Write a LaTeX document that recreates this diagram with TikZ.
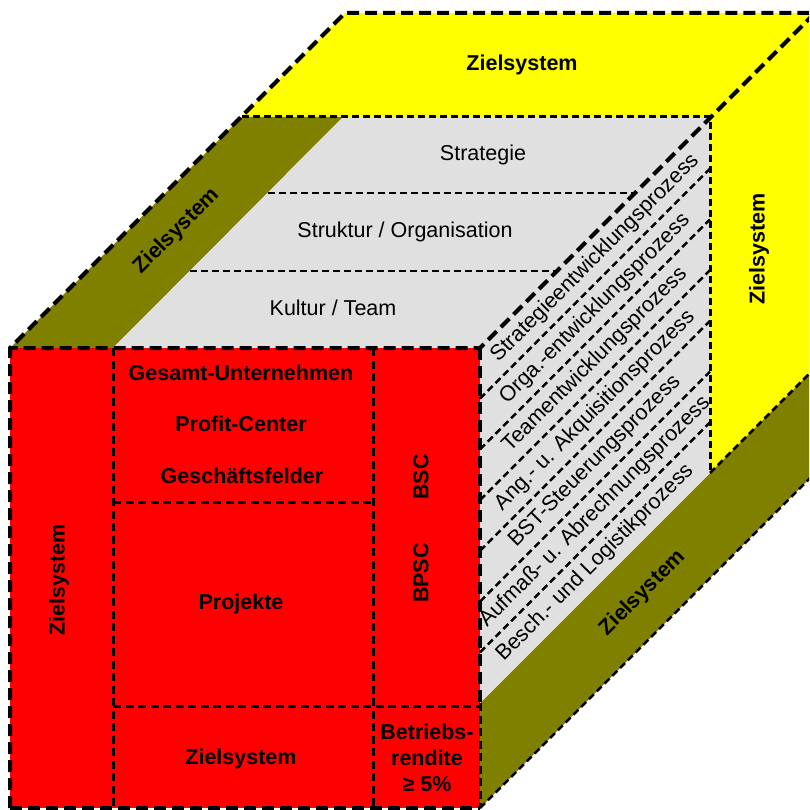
\documentclass[tikz,border=0pt]{standalone}
\usepackage{fontspec}
\setmainfont{Liberation Sans}
\definecolor{faceRed}{HTML}{FF0000}
\definecolor{faceYellow}{HTML}{FFFF00}
\definecolor{faceOlive}{HTML}{808000}
\definecolor{faceGray}{HTML}{E0E0E0}
\begin{document}
\begin{tikzpicture}[x=1pt,y=-1pt,
  edge/.style={line width=4pt, dash pattern=on 12pt off 6pt},
  seam/.style={line width=2.5pt, dash pattern=on 7pt off 4pt},
  frontseam/.style={line width=3pt, dash pattern=on 8pt off 4.5pt},
  lbl/.style={font=\fontsize{21.5}{26}\selectfont, inner sep=0pt, align=center},
  blbl/.style={font=\fontsize{21.5}{26}\selectfont\bfseries, inner sep=0pt, align=center}]
\useasboundingbox (0,0) rectangle (809,810);
\begin{scope}
\clip (0,0) rectangle (809,810);

% corners of the cube
\coordinate (F1) at (10,348);
\coordinate (F2) at (480,348);
\coordinate (F3) at (480,808);
\coordinate (F4) at (10,808);
\coordinate (B1) at (345,13);
\coordinate (B2) at (815,13);
\coordinate (B3) at (815,473);
% inner block corners
\coordinate (I1) at (113,348);
\coordinate (I2) at (343,117);
\coordinate (I3) at (710,117);
\coordinate (I4) at (710,473);
\coordinate (I5) at (480,703);
\coordinate (O1) at (242,117);
\coordinate (O2) at (815,368);

% faces
\fill[faceYellow] (F1) -- (B1) -- (B2) -- (B3) -- (F3) -- (F4) -- cycle;
\fill[faceOlive] (F1) -- (I1) -- (I2) -- (O1) -- cycle;
\fill[faceOlive] (I5) -- (O2) -- (B3) -- (F3) -- cycle;
\fill[faceGray] (I1) -- (I2) -- (I3) -- (I4) -- (I5) -- (F2) -- cycle;
\fill[faceRed] (F1) rectangle (F3);

% seams on the top and right faces
\draw[seam, line width=3pt] (O1) -- (I3) -- (I4);
\draw[seam] (I4) -- (O2);
\draw[seam] (F3) -- (B3);
\coordinate (L1a) at (268,193); \coordinate (L1b) at (635,193);
\coordinate (L2a) at (190,271); \coordinate (L2b) at (557,271);
\draw[seam] (L1a) -- (L1b);
\draw[seam] (L2a) -- (L2b);
\foreach \k in {1,...,6}{
  \coordinate (P\k a) at (480,{348+\k*355/7});
  \coordinate (P\k b) at (710,{118+\k*355/7});
  \draw[seam] (P\k a) -- (P\k b);
}

% seams on the front face
\coordinate (V1a) at (113,348); \coordinate (V1b) at (113,808);
\coordinate (V2a) at (373,348); \coordinate (V2b) at (373,808);
\coordinate (H1a) at (113,502); \coordinate (H1b) at (373,502);
\coordinate (H2a) at (113,706); \coordinate (H2b) at (480,706);
\draw[frontseam] (V1a) -- (V1b);
\draw[frontseam] (V2a) -- (V2b);
\draw[frontseam] (H1a) -- (H1b);
\draw[frontseam] (H2a) -- (H2b);
\draw[frontseam] (I5) -- (F3);

% outer edges
\draw[edge] (F4) -- (F1) -- (B1) -- (B2) -- (F2) -- (F1);
\draw[edge] (F2) -- (I5);
\draw[edge] (F4) -- (F3);

% labels on the top face
\node[blbl] (zTop) at (522,65) {Zielsystem};
\node[blbl, rotate=45] (zLeft) at (177,231) {Zielsystem};
\node[lbl] (strat) at (483,155) {Strategie};
\node[lbl] (struk) at (405,232) {Struktur / Organisation};
\node[lbl] (kult) at (333,308) {Kultur / Team};

% labels on the right face
\node[blbl, rotate=90] (zRight) at (759,249) {Zielsystem};
\node[blbl, rotate=45] (zBottom) at (643,593) {Zielsystem};
\foreach \k/\t in {1/Strategieentwicklungsprozess,
                   2/Orga.-entwicklungsprozess,
                   3/Teamentwicklungsprozess,
                   4/Ang.- u. Akquisitionsprozess,
                   5/BST-Steuerungsprozess,
                   6/Aufmaß- u. Abrechnungsprozess,
                   7/Besch.- und Logistikprozess}{
  \node[lbl, rotate=45] (proc\k) at (595,{348+(\k-0.5)*355/7-115}) {\t};
}

% labels on the front face
\node[blbl, rotate=90] (zFront) at (59,580) {Zielsystem};
\node[blbl] (gesamt) at (241,373) {Gesamt-Unternehmen};
\node[blbl] (profit) at (241,424) {Profit-Center};
\node[blbl] (gesch) at (242,476) {Geschäftsfelder};
\node[blbl] (proj) at (241,604) {Projekte};
\node[blbl] (zFrontB) at (241,759) {Zielsystem};
\node[blbl, rotate=90] (bsc) at (421,477) {BSC};
\node[blbl, rotate=90] (bpsc) at (421,573) {BPSC};
\node[blbl] (rendite) at (427,758) {Betriebs-\\rendite\\≥ 5\%};
\end{scope}
\end{tikzpicture}
\end{document}
